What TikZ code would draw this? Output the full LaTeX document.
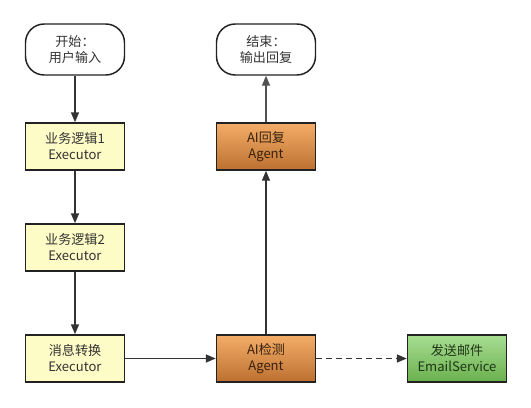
\documentclass[tikz,border=0pt]{standalone}
\usepackage{fontspec}
\setmainfont{Noto Sans CJK SC}
\usetikzlibrary{arrows.meta}

\definecolor{boxline}{HTML}{222222}
\definecolor{arrowgray}{HTML}{333333}
\definecolor{yellowfill}{HTML}{FDFBC6}
\definecolor{orangetop}{HTML}{F4AD68}
\definecolor{orangebot}{HTML}{BC7030}
\definecolor{greentop}{HTML}{A8DE92}
\definecolor{greenbot}{HTML}{6AB04E}

\tikzset{every picture/.style={line width=0.75pt}}
\tikzset{
  terminal/.style={draw=boxline,line width=1.1pt,rounded corners=14pt,fill=white,
    minimum width=74.25pt,minimum height=38.25pt,align=center,font=\fontsize{9.8}{12}\selectfont,text=arrowgray},
  execbox/.style={draw=boxline,line width=1.1pt,fill=yellowfill,
    minimum width=74.25pt,minimum height=35.25pt,align=center,font=\fontsize{9.8}{12}\selectfont,text=arrowgray},
  agentbox/.style={execbox,top color=orangetop,bottom color=orangebot,text=black!70!orangebot},
  servicebox/.style={execbox,top color=greentop,bottom color=greenbot,text=black!70!greenbot},
  flow/.style={draw=arrowgray,line width=1.1pt,-{Triangle[length=7.5pt,width=6pt]}},
}

\begin{document}
\begin{tikzpicture}[x=0.75pt,y=0.75pt,yscale=-1,xscale=1]
\useasboundingbox (0,0) rectangle (531,407);

% Terminals
\draw (75,49.5) node (start) [terminal] {开始：\\用户输入};
\draw (266,49.5) node (finish) [terminal] {结束：\\输出回复};

% Executors
\draw (75,146.5) node (logic1) [execbox] {业务逻辑1\\Executor};
\draw (75,247.5) node (logic2) [execbox] {业务逻辑2\\Executor};
\draw (75,358.5) node (convert) [execbox] {消息转换\\Executor};

% Agents
\draw (266,358.5) node (detect) [agentbox] {AI检测\\Agent};
\draw (266,146.5) node (reply) [agentbox] {AI回复\\Agent};

% Service
\draw (457,358.5) node (email) [servicebox] {发送邮件\\EmailService};

% Connectors
\draw [flow] (start) -- (logic1);
\draw [flow] (logic1) -- (logic2);
\draw [flow] (logic2) -- (convert);
\draw [flow] (convert) -- (detect);
\draw [flow] (detect) -- (reply);
\draw [flow,draw=arrowgray!85,line width=0.9pt] (reply) -- (finish);
\draw [flow,dash pattern=on 4.5pt off 3pt] (detect) -- (email);

\end{tikzpicture}
\end{document}
